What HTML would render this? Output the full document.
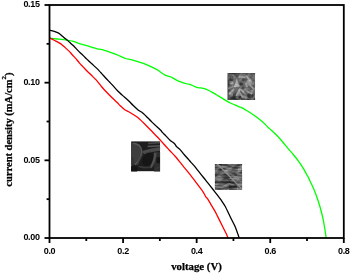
<!DOCTYPE html>
<html><head><meta charset="utf-8"><style>
html,body{margin:0;padding:0;background:#fff;width:350px;height:273px;overflow:hidden}
svg{display:block}
.t,.s{filter:grayscale(1)}
.t{font-family:"Liberation Sans",sans-serif;font-weight:bold;font-size:9px;fill:#000;letter-spacing:-0.35px}
.s{font-family:"Liberation Serif",serif;font-weight:bold;font-size:10.8px;fill:#000;stroke:#000;stroke-width:0.25px}
</style></head><body>
<svg width="350" height="273" viewBox="0 0 350 273">
<rect width="350" height="273" fill="#fff"/>
<defs><filter id="b1" x="-20%" y="-20%" width="140%" height="140%"><feGaussianBlur stdDeviation="0.6"/></filter>
<filter id="n3" x="0" y="0" width="100%" height="100%" filterUnits="objectBoundingBox"><feTurbulence type="fractalNoise" baseFrequency="0.3" numOctaves="2" seed="5"/><feColorMatrix type="matrix" values="0 0 0 0 1  0 0 0 0 1  0 0 0 0 1  2 0 0 0 -0.9"/></filter>
<filter id="n4" x="0" y="0" width="100%" height="100%" filterUnits="objectBoundingBox" color-interpolation-filters="sRGB"><feTurbulence type="fractalNoise" baseFrequency="0.12 0.45" numOctaves="2" seed="3"/><feColorMatrix type="matrix" values="3 0 0 0 -1.14  3 0 0 0 -1.14  3 0 0 0 -1.14  0 0 0 0 1"/></filter>
<filter id="n1" x="0" y="0" width="100%" height="100%" filterUnits="objectBoundingBox"><feTurbulence type="fractalNoise" baseFrequency="0.028" numOctaves="2" seed="7"/><feColorMatrix type="matrix" values="0 0 0 0 0  0 0 0 0 0  0 0 0 0 0  2.2 0 0 0 -0.6"/></filter>
<filter id="n2" x="0" y="0" width="100%" height="100%" filterUnits="objectBoundingBox"><feTurbulence type="fractalNoise" baseFrequency="0.028" numOctaves="2" seed="11"/><feColorMatrix type="matrix" values="0 0 0 0 1  0 0 0 0 1  0 0 0 0 1  2.2 0 0 0 -0.9"/></filter><filter id="b6" x="-20%" y="-20%" width="140%" height="140%"><feGaussianBlur stdDeviation="6"/></filter></defs>
<g transform="translate(226,71.4) scale(0.113636)">
<clipPath id="c1"><rect x="14" y="14" width="242" height="237"/></clipPath>
<g clip-path="url(#c1)">
<rect x="14" y="14" width="242" height="237" fill="#747474"/>
<g filter="url(#b6)">
<rect x="0" y="0" width="30" height="270" fill="#4a4a4a"/>
<rect x="0" y="0" width="270" height="26" fill="#484848"/>
<rect x="0" y="238" width="270" height="30" fill="#4a4a4a"/>
<ellipse cx="45" cy="60" rx="22" ry="25" fill="#3a3a3a"/>
<ellipse cx="215" cy="215" rx="28" ry="22" fill="#3a3a3a"/>
<ellipse cx="135" cy="110" rx="16" ry="14" fill="#3c3c3c"/>
<ellipse cx="75" cy="205" rx="14" ry="22" fill="#404040"/>
<ellipse cx="60" cy="232" rx="26" ry="14" fill="#333"/>
<ellipse cx="130" cy="230" rx="22" ry="14" fill="#363636"/>
<ellipse cx="160" cy="70" rx="20" ry="14" fill="#505050"/>
<ellipse cx="150" cy="145" rx="15" ry="12" fill="#4c4c4c"/>
<ellipse cx="225" cy="150" rx="18" ry="14" fill="#555"/>
<ellipse cx="100" cy="40" rx="18" ry="10" fill="#555"/>
<path d="M68,140 L95,58 L118,135 Z" fill="#c4c4c4"/>
<ellipse cx="205" cy="95" rx="22" ry="32" fill="#a8a8a8"/>
<path d="M110,45 L172,50" stroke="#b4b4b4" stroke-width="16" fill="none"/>
<path d="M180,38 L212,82" stroke="#b8b8b8" stroke-width="16" fill="none"/>
<path d="M178,98 L184,138" stroke="#c0c0c0" stroke-width="18" fill="none"/>
<path d="M208,118 L242,152" stroke="#a8a8a8" stroke-width="14" fill="none"/>
<path d="M30,200 L72,150" stroke="#b0b0b0" stroke-width="15" fill="none"/>
<path d="M90,215 L125,150" stroke="#b8b8b8" stroke-width="16" fill="none"/>
<path d="M110,170 L150,232" stroke="#b4b4b4" stroke-width="15" fill="none"/>
<path d="M130,160 L172,200" stroke="#acacac" stroke-width="14" fill="none"/>
<path d="M180,172 L232,200" stroke="#a8a8a8" stroke-width="14" fill="none"/>
<path d="M35,110 L68,100" stroke="#a4a4a4" stroke-width="12" fill="none"/>
<path d="M20,150 L60,135" stroke="#9a9a9a" stroke-width="10" fill="none"/>
</g>
<rect x="14" y="14" width="242" height="237" filter="url(#n1)" opacity="0.3"/>
<rect x="14" y="14" width="242" height="237" filter="url(#n2)" opacity="0.3"/>
</g></g>
<g transform="translate(131.1,141.2)">
<clipPath id="c2"><rect x="0" y="0" width="29" height="30.2"/></clipPath>
<g clip-path="url(#c2)">
<rect x="0" y="0" width="29" height="30.2" fill="#1e1e1e"/>
<g filter="url(#b1)">
<rect x="23" y="11" width="7" height="20" fill="#2e2e2e"/>
<path d="M-1,1.8 L2,1.8 Q9.8,2.6 10.6,9.5 Q10.6,17 4,23.5 L-1,23.5 Z" fill="#3c3c3c"/>
<path d="M2,2 Q9.8,2.6 10.6,9.5 Q10.6,17 4,23.5" stroke="#585858" stroke-width="1.4" fill="none"/>
<path d="M1,16 Q3,20 1.5,24" stroke="#333" stroke-width="1.5" fill="none"/>
<path d="M17,2.4 L30,1.4" stroke="#4a4a4a" stroke-width="1.5"/>
<path d="M16.5,5.4 L30,4.5" stroke="#565656" stroke-width="1.5"/>
<path d="M30,7.2 Q20,8.2 12.5,10.8" stroke="#4c4c4c" stroke-width="2.8" fill="none" stroke-linecap="round"/>
<path d="M30,8.8 Q21,9.8 13,12.6" stroke="#5a5a5a" stroke-width="0.8" fill="none"/>
<ellipse cx="16.8" cy="18" rx="4.8" ry="7" transform="rotate(25 16.8 18)" fill="#141414"/>
<path d="M11.5,12.5 Q8,19 6,24" stroke="#404040" stroke-width="1.3" fill="none"/>
<path d="M24.2,11.5 Q23.8,20 19.5,26.5" stroke="#505050" stroke-width="2.4" fill="none"/>
<path d="M7.5,25.2 Q14,27 20,26" stroke="#383838" stroke-width="1.6" fill="none"/>
<ellipse cx="27.2" cy="19" rx="2" ry="3.2" fill="#161616"/>
<path d="M24,27.5 L29.5,25.5" stroke="#3a3a3a" stroke-width="1.2"/>
<rect x="-1" y="25" width="7" height="6" fill="#181818"/>
</g>
</g></g>
<g transform="translate(214.9,164)">
<clipPath id="c3"><rect x="0" y="0" width="27.2" height="25.8"/></clipPath>
<g clip-path="url(#c3)">
<rect x="0" y="0" width="27.2" height="25.8" fill="#5e5e5e"/>
<g filter="url(#b1)">
<rect x="-1" y="-1" width="8" height="7" fill="#363636"/>
<rect x="17" y="3" width="4.5" height="3" fill="#444"/>
<rect x="23" y="-1" width="5" height="3" fill="#444"/>
<rect x="23" y="4" width="3.5" height="4" fill="#929292"/>
<rect x="-1" y="7" width="9" height="2" fill="#848484"/>
<rect x="9" y="6" width="7" height="2" fill="#7a7a7a"/>
<rect x="-1" y="10" width="14" height="1.4" fill="#3c3c3c"/>
<rect x="-1" y="13" width="16" height="1.6" fill="#353535"/>
<rect x="-1" y="15.3" width="14" height="1.2" fill="#727272"/>
<rect x="-1" y="17.2" width="21" height="2" fill="#383838"/>
<rect x="14" y="20.5" width="8" height="5.5" fill="#343434"/>
<rect x="-1" y="20" width="13" height="6" fill="#727272"/>
<rect x="3" y="23.5" width="6" height="2.5" fill="#555"/>
<rect x="22" y="10" width="6" height="16" fill="#767676"/>
<rect x="17" y="9" width="5" height="2" fill="#505050"/>
</g>
<rect x="0" y="0" width="27.2" height="25.8" filter="url(#n4)" opacity="0.3"/>
<path d="M2,-0.5 L27.5,25.5" stroke="#8e8e8e" stroke-width="1.1" filter="url(#b1)"/>
</g></g>
<g fill="none" stroke-width="1.3" stroke-linejoin="round" stroke-linecap="round">
<path stroke="#00ff00" d="M49.80,38.10 C50.42,38.17 55.99,38.84 57.19,38.98 C58.39,39.11 63.20,39.59 64.18,39.72 C65.16,39.86 68.26,40.44 68.96,40.56 C69.65,40.69 71.91,41.10 72.48,41.24 C73.04,41.37 75.17,41.98 75.75,42.18 C76.33,42.38 78.74,43.42 79.42,43.64 C80.10,43.86 83.14,44.62 83.90,44.84 C84.66,45.05 87.73,45.98 88.50,46.22 C89.27,46.47 92.35,47.52 93.09,47.74 C93.83,47.96 96.77,48.69 97.35,48.82 C97.93,48.94 99.58,49.21 100.05,49.29 C100.53,49.37 102.44,49.59 103.04,49.76 C103.65,49.92 106.58,50.96 107.32,51.22 C108.06,51.49 111.13,52.69 111.90,52.98 C112.67,53.26 115.73,54.34 116.50,54.64 C117.27,54.93 120.35,56.21 121.09,56.54 C121.83,56.86 124.78,58.28 125.35,58.50 C125.92,58.71 127.56,59.07 127.95,59.14 C128.35,59.21 129.66,59.22 130.07,59.31 C130.48,59.39 132.25,59.97 132.84,60.15 C133.43,60.32 136.45,61.19 137.19,61.41 C137.93,61.64 140.95,62.58 141.71,62.84 C142.47,63.10 145.53,64.23 146.30,64.54 C147.07,64.85 150.17,66.20 150.93,66.57 C151.69,66.93 154.85,68.57 155.44,68.87 C156.03,69.17 157.59,69.93 158.04,70.21 C158.49,70.50 160.25,71.84 160.84,72.24 C161.43,72.65 164.42,74.71 165.08,75.06 C165.74,75.41 168.14,76.24 168.70,76.43 C169.26,76.62 171.19,77.08 171.80,77.36 C172.42,77.65 175.38,79.44 176.11,79.83 C176.84,80.21 179.90,81.69 180.54,81.97 C181.19,82.24 183.38,82.97 183.84,83.10 C184.30,83.23 185.66,83.44 186.07,83.54 C186.49,83.63 188.26,84.04 188.84,84.22 C189.42,84.40 192.42,85.47 193.08,85.74 C193.74,86.00 196.18,87.22 196.81,87.41 C197.44,87.59 199.92,87.84 200.61,87.96 C201.30,88.08 204.36,88.63 205.09,88.87 C205.82,89.10 208.78,90.51 209.35,90.78 C209.92,91.05 211.56,91.89 211.95,92.11 C212.35,92.33 213.66,93.18 214.07,93.42 C214.48,93.67 216.25,94.70 216.84,95.04 C217.43,95.39 220.45,97.17 221.19,97.61 C221.93,98.06 224.95,99.94 225.71,100.39 C226.47,100.84 229.53,102.61 230.30,102.99 C231.07,103.37 234.17,104.61 234.93,104.93 C235.69,105.25 238.84,106.55 239.44,106.79 C240.04,107.04 241.62,107.60 242.15,107.87 C242.68,108.14 245.00,109.58 245.74,110.03 C246.48,110.48 250.10,112.67 251.00,113.26 C251.90,113.85 255.60,116.40 256.50,117.07 C257.40,117.74 261.05,120.67 261.82,121.32 C262.59,121.97 265.21,124.40 265.70,124.87 C266.19,125.35 267.26,126.58 267.71,127.00 C268.16,127.42 270.34,129.24 271.11,129.95 C271.88,130.66 275.96,134.54 276.91,135.52 C277.86,136.50 281.58,140.63 282.50,141.71 C283.42,142.79 287.07,147.38 287.96,148.44 C288.86,149.51 292.37,153.41 293.27,154.50 C294.18,155.60 298.00,160.45 298.83,161.60 C299.67,162.75 302.64,167.24 303.29,168.31 C303.94,169.38 306.23,173.69 306.65,174.45 C307.07,175.20 308.06,176.78 308.36,177.39 C308.67,177.99 309.92,180.90 310.31,181.72 C310.69,182.54 312.54,186.21 312.99,187.23 C313.44,188.25 315.28,192.74 315.73,193.93 C316.18,195.12 318.07,200.57 318.39,201.52 C318.70,202.46 319.28,204.53 319.50,205.30 C319.73,206.07 320.77,209.57 321.07,210.72 C321.37,211.87 322.81,217.66 323.12,219.10 C323.42,220.54 324.44,226.47 324.69,228.02 C324.95,229.57 326.03,236.89 326.15,237.70"/>
<path stroke="#ff0000" d="M49.80,38.10 C50.25,38.32 54.37,40.34 55.19,40.75 C56.02,41.17 59.05,42.70 59.68,43.10 C60.32,43.50 62.24,45.05 62.80,45.51 C63.35,45.97 65.73,48.09 66.31,48.62 C66.90,49.16 69.31,51.40 69.80,51.90 C70.29,52.41 71.71,54.18 72.20,54.72 C72.69,55.26 75.10,57.66 75.69,58.34 C76.28,59.02 78.69,62.16 79.31,62.87 C79.93,63.58 82.42,66.13 83.12,66.87 C83.82,67.61 86.94,70.95 87.72,71.74 C88.51,72.53 91.78,75.61 92.56,76.39 C93.35,77.17 96.45,80.24 97.19,81.08 C97.93,81.92 100.85,85.77 101.44,86.49 C102.03,87.21 103.68,89.08 104.28,89.73 C104.87,90.37 107.86,93.51 108.60,94.27 C109.34,95.03 112.45,98.13 113.19,98.84 C113.92,99.55 116.87,102.27 117.44,102.82 C118.00,103.37 119.57,105.11 119.95,105.48 C120.33,105.85 121.59,106.96 122.00,107.31 C122.40,107.66 124.23,109.28 124.83,109.68 C125.43,110.07 128.45,111.63 129.19,112.06 C129.93,112.49 132.95,114.33 133.69,114.81 C134.44,115.28 137.38,117.20 138.08,117.76 C138.79,118.33 141.45,120.88 142.20,121.60 C142.95,122.32 146.35,125.66 147.14,126.44 C147.93,127.22 151.02,130.28 151.66,130.94 C152.29,131.61 154.30,133.96 154.74,134.43 C155.18,134.90 156.41,135.97 156.95,136.53 C157.49,137.09 160.47,140.32 161.21,141.13 C161.94,141.94 165.05,145.44 165.79,146.26 C166.53,147.08 169.35,150.12 170.13,150.95 C170.90,151.78 174.33,155.34 175.13,156.25 C175.94,157.17 179.04,161.01 179.79,161.93 C180.54,162.86 183.35,166.40 184.13,167.35 C184.90,168.29 188.33,172.31 189.13,173.32 C189.94,174.32 193.04,178.43 193.79,179.42 C194.54,180.40 197.37,184.13 198.13,185.14 C198.89,186.16 202.27,190.60 202.91,191.58 C203.56,192.56 205.46,196.24 205.87,196.86 C206.28,197.48 207.42,198.46 207.81,199.04 C208.20,199.62 210.00,202.86 210.58,203.85 C211.16,204.84 214.25,210.02 214.76,210.91 C215.26,211.80 216.24,213.69 216.65,214.50 C217.06,215.31 219.15,219.54 219.69,220.62 C220.22,221.71 222.59,226.46 223.11,227.50 C223.63,228.54 225.49,232.23 225.89,233.08 C226.29,233.93 227.73,237.31 227.90,237.70"/>
<path stroke="#000" d="M49.80,30.30 C50.11,30.36 52.88,30.83 53.48,31.01 C54.07,31.18 56.41,32.16 56.94,32.40 C57.47,32.64 59.44,33.65 59.84,33.92 C60.25,34.19 61.43,35.34 61.78,35.65 C62.14,35.96 63.68,37.31 64.06,37.63 C64.45,37.94 65.92,39.03 66.40,39.44 C66.89,39.85 69.30,42.04 69.87,42.54 C70.44,43.05 72.43,44.76 73.22,45.54 C74.00,46.31 78.44,51.03 79.26,51.85 C80.08,52.67 82.41,54.79 83.05,55.40 C83.68,56.00 86.13,58.43 86.86,59.14 C87.59,59.84 90.95,63.05 91.80,63.84 C92.65,64.63 96.26,67.82 97.09,68.63 C97.91,69.44 100.96,72.79 101.71,73.61 C102.47,74.43 105.48,77.78 106.13,78.48 C106.78,79.18 108.94,81.41 109.51,82.01 C110.07,82.61 112.27,84.93 112.95,85.69 C113.64,86.44 116.90,90.21 117.74,91.06 C118.58,91.91 122.15,95.07 123.05,95.87 C123.95,96.67 127.72,99.87 128.55,100.66 C129.38,101.44 132.19,104.51 133.01,105.31 C133.83,106.10 137.60,109.59 138.38,110.20 C139.16,110.82 141.84,112.31 142.37,112.70 C142.90,113.09 144.33,114.44 144.75,114.85 C145.17,115.25 146.86,116.97 147.44,117.55 C148.02,118.14 150.98,121.15 151.73,121.87 C152.48,122.59 155.70,125.55 156.45,126.25 C157.20,126.95 160.25,129.77 160.76,130.29 C161.27,130.82 162.15,132.11 162.58,132.57 C163.00,133.03 165.23,135.19 165.84,135.83 C166.46,136.47 169.45,139.72 170.00,140.24 C170.55,140.77 172.07,141.78 172.48,142.12 C172.90,142.46 174.65,143.93 175.00,144.30 C175.34,144.67 176.17,146.18 176.58,146.60 C176.98,147.02 179.20,148.66 179.84,149.33 C180.49,150.01 183.59,153.86 184.34,154.72 C185.08,155.57 188.22,158.98 188.74,159.58 C189.26,160.18 190.15,161.41 190.58,161.89 C191.00,162.37 193.19,164.55 193.84,165.32 C194.50,166.10 197.62,170.11 198.46,171.17 C199.29,172.23 203.13,177.05 203.91,178.02 C204.69,178.99 207.12,181.91 207.83,182.80 C208.55,183.70 211.63,187.64 212.47,188.74 C213.32,189.84 217.25,194.95 218.01,195.96 C218.78,196.96 221.05,199.90 221.64,200.76 C222.23,201.61 224.58,205.23 225.13,206.21 C225.67,207.19 227.68,211.43 228.19,212.48 C228.69,213.53 230.65,217.73 231.18,218.80 C231.71,219.87 234.06,224.27 234.54,225.32 C235.03,226.37 236.59,230.40 236.97,231.41 C237.35,232.42 238.88,236.95 239.05,237.45"/>
</g>
<rect x="49.5" y="5.0" width="294.30" height="233.00" fill="none" stroke="#000" stroke-width="1.8"/>
<g stroke="#000" stroke-width="1.8">
<line x1="49.50" y1="238.0" x2="49.50" y2="243.0"/>
<line x1="123.08" y1="238.0" x2="123.08" y2="243.0"/>
<line x1="196.65" y1="238.0" x2="196.65" y2="243.0"/>
<line x1="270.23" y1="238.0" x2="270.23" y2="243.0"/>
<line x1="343.80" y1="238.0" x2="343.80" y2="243.0"/>
<line x1="86.29" y1="238.0" x2="86.29" y2="241.0"/>
<line x1="159.86" y1="238.0" x2="159.86" y2="241.0"/>
<line x1="233.44" y1="238.0" x2="233.44" y2="241.0"/>
<line x1="307.01" y1="238.0" x2="307.01" y2="241.0"/>
<line x1="44.5" y1="238.00" x2="49.5" y2="238.00"/>
<line x1="44.5" y1="160.33" x2="49.5" y2="160.33"/>
<line x1="44.5" y1="82.67" x2="49.5" y2="82.67"/>
<line x1="44.5" y1="5.00" x2="49.5" y2="5.00"/>
<line x1="46.6" y1="199.17" x2="49.5" y2="199.17"/>
<line x1="46.6" y1="121.50" x2="49.5" y2="121.50"/>
<line x1="46.6" y1="43.83" x2="49.5" y2="43.83"/>
</g>
<g class="t">
<text x="49.50" y="254.1" text-anchor="middle">0.0</text>
<text x="123.08" y="254.1" text-anchor="middle">0.2</text>
<text x="196.65" y="254.1" text-anchor="middle">0.4</text>
<text x="270.23" y="254.1" text-anchor="middle">0.6</text>
<text x="343.80" y="254.1" text-anchor="middle">0.8</text>
<text x="39.6" y="240.40" text-anchor="end">0.00</text>
<text x="39.6" y="162.73" text-anchor="end">0.05</text>
<text x="39.6" y="85.07" text-anchor="end">0.10</text>
<text x="39.6" y="7.40" text-anchor="end">0.15</text>
</g>
<text class="s" x="196.5" y="270" text-anchor="middle">voltage (V)</text>
<text class="s" style="font-size:10.5px" transform="translate(12,129.6) rotate(-90)" text-anchor="middle">current density (mA/cm<tspan font-size="7" dy="-5.8">2</tspan><tspan dy="5.8">)</tspan></text>
</svg>
</body></html>
